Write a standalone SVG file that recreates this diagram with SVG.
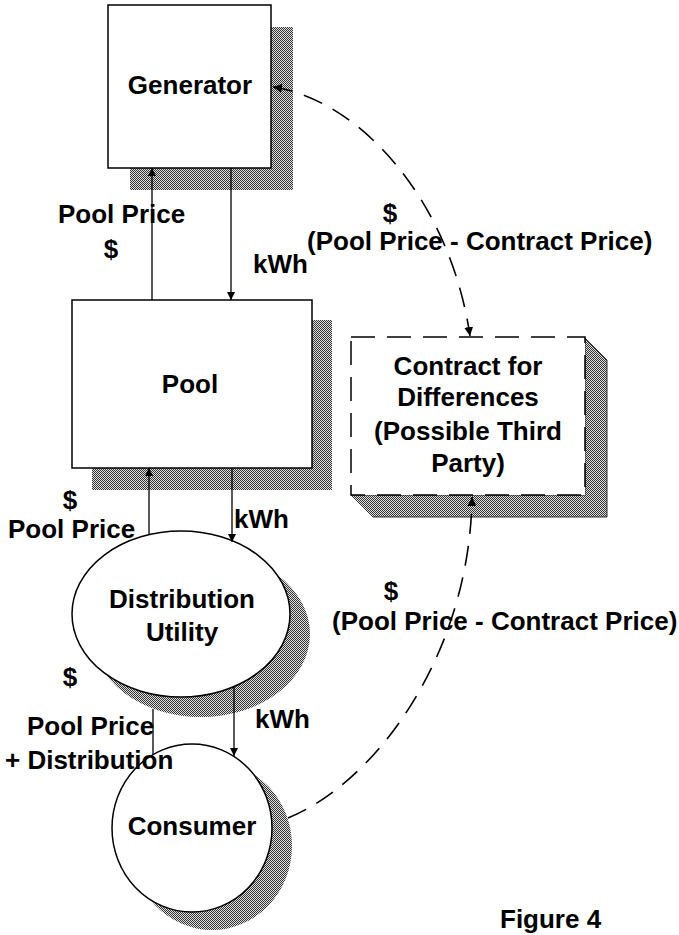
<svg xmlns="http://www.w3.org/2000/svg" width="679" height="935" viewBox="0 0 679 935">
<style>
  text { font-family: "Liberation Sans", Arial, sans-serif; font-weight: bold; font-size: 26px; fill: #000; }
  .mid { text-anchor: middle; }
  .box { fill: #fff; stroke: #000; stroke-width: 1.5; }
  .shadow { fill: url(#dots); stroke: none; }
  .line { fill: none; stroke: #000; stroke-width: 1.3; }
  .dash { fill: none; stroke: #000; stroke-width: 1.6; stroke-dasharray: 20 12; }
</style>
<defs>
  <pattern id="dots" width="2" height="2" patternUnits="userSpaceOnUse">
    <rect width="2" height="2" fill="#e0e0e0"/>
    <rect x="0" y="0" width="1" height="1" fill="#333"/>
    <rect x="1" y="1" width="1" height="1" fill="#333"/>
  </pattern>
  <marker id="arr" viewBox="0 0 10 10" refX="10" refY="5" markerWidth="8" markerHeight="8" markerUnits="userSpaceOnUse" orient="auto">
    <path d="M0,0 L10,5 L0,10 z" fill="#000"/>
  </marker>
  <marker id="arrd" viewBox="0 0 10 10" refX="10" refY="5" markerWidth="9" markerHeight="9" markerUnits="userSpaceOnUse" orient="auto-start-reverse">
    <path d="M0,0 L10,5 L0,10 z" fill="#000"/>
  </marker>
</defs>
<rect width="679" height="935" fill="#fff"/>

<g id="generator">
  <rect class="shadow" x="130" y="27" width="163" height="163"/>
  <rect class="box" x="108" y="5" width="163" height="163"/>
  <text class="mid" x="190" y="94">Generator</text>
</g>

<g id="pool">
  <rect class="shadow" x="92" y="320" width="240" height="170"/>
  <rect class="box" x="72" y="300" width="240" height="168"/>
  <text class="mid" x="190" y="393">Pool</text>
</g>

<g id="contract">
  <polygon points="585,338 607,360 607,517 373,517 351,495 585,495" fill="url(#dots)" stroke="#333" stroke-width="1"/>
  <rect x="351" y="337" width="234" height="158" fill="#fff" stroke="#000" stroke-width="1.5" stroke-dasharray="24 12"/>
  <text class="mid" x="468" y="375">Contract for</text>
  <text class="mid" x="468" y="406">Differences</text>
  <text class="mid" x="468" y="440">(Possible Third</text>
  <text class="mid" x="468" y="472">Party)</text>
</g>

<g id="distribution">
  <ellipse class="shadow" cx="201" cy="634" rx="109" ry="83"/>
  <ellipse class="box" cx="181" cy="614" rx="109" ry="83"/>
  <text class="mid" x="182" y="608">Distribution</text>
  <text class="mid" x="182" y="641">Utility</text>
</g>

<g id="consumer">
  <ellipse class="shadow" cx="212" cy="846" rx="80" ry="84"/>
  <ellipse class="box" cx="192" cy="828" rx="80" ry="84"/>
  <text class="mid" x="192" y="835">Consumer</text>
</g>

<g id="connectors">
  <line class="line" x1="231" y1="168" x2="231" y2="300" marker-end="url(#arr)"/>
  <line class="line" x1="152" y1="300" x2="152" y2="168" marker-end="url(#arr)"/>
  <line class="line" x1="232" y1="468" x2="232" y2="542" marker-end="url(#arr)"/>
  <line class="line" x1="149" y1="535" x2="149" y2="468" marker-end="url(#arr)"/>
  <line class="line" x1="234" y1="687" x2="234" y2="756" marker-end="url(#arr)"/>
  <line class="line" x1="153" y1="755" x2="153" y2="709"/>
  <path class="dash" d="M273,87 C360,100 450,200 470,336" marker-start="url(#arrd)" marker-end="url(#arrd)"/>
  <path class="dash" d="M288,818 C380,780 470,650 472,497" marker-end="url(#arrd)"/>
</g>

<g id="labels">
  <text x="58" y="223">Pool Price</text>
  <text class="mid" x="111" y="258">$</text>
  <text x="253" y="273">kWh</text>
  <text class="mid" x="390" y="222">$</text>
  <text x="307" y="250">(Pool Price - Contract Price)</text>
  <text class="mid" x="70" y="509">$</text>
  <text x="8" y="538">Pool Price</text>
  <text x="234" y="528">kWh</text>
  <text class="mid" x="70" y="686">$</text>
  <text x="27" y="735">Pool Price</text>
  <text x="5" y="769">+ Distribution</text>
  <text x="255" y="728">kWh</text>
  <text class="mid" x="391" y="600">$</text>
  <text x="332" y="630">(Pool Price - Contract Price)</text>
  <text x="500" y="928">Figure 4</text>
</g>
</svg>
